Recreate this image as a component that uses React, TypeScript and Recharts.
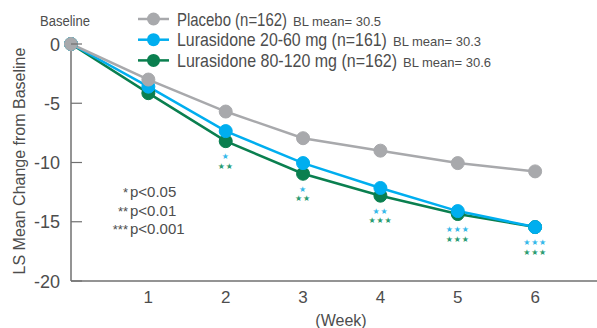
import React from 'react';
import { LineChart, Line, XAxis, YAxis } from 'recharts';

// LS mean change from baseline
const weeks = [0, 1, 2, 3, 4, 5, 6];
const placebo = [0, -3.0, -5.7, -7.95, -9.0, -10.05, -10.75];
const luraLow = [0, -3.6, -7.35, -10.05, -12.15, -14.1, -15.45];
const luraHigh = [0, -4.15, -8.2, -10.95, -12.8, -14.35, -15.45];

// significance vs placebo at each week (number of stars)
const sigLow = ['', '', '★', '★', '★★', '★★★', '★★★'];
const sigHigh = ['', '', '★★', '★★', '★★★', '★★★', '★★★'];

const xTicks = [1, 2, 3, 4, 5, 6];
const yTicks = [0, -5, -10, -15, -20];

const seriesNames = ['Placebo (n=162)', 'Lurasidone 20-60 mg (n=161)', 'Lurasidone 80-120 mg (n=162)'];
const blMeans = ['30.5', '30.3', '30.6'];
const pNotes = [
  { stars: '*', text: 'p<0.05' },
  { stars: '**', text: 'p<0.01' },
  { stars: '***', text: 'p<0.001' },
];

const GRAY = '#a8a9ac';
const BLUE = '#00aeef';
const GREEN = '#0a7f4f';
const STAR_BLUE = '#35b9ea';
const STAR_GREEN = '#2a9c72';
const TEXT = '#4d4d4d';
const AXIS = '#707070';
const FONT = '"Liberation Sans", Arial, sans-serif';

const colors = [GRAY, BLUE, GREEN];
// legend names are set in a narrow face; squeeze the regular one horizontally
const legendScale = [0.83, 0.884, 0.889];
const legendWidths = [110, 210, 220];

const data = weeks.map((w, i) => ({
  week: w,
  placebo: placebo[i],
  low: luraLow[i],
  high: luraHigh[i],
}));

const YTick = (props: any) => {
  const { x, y, payload } = props;
  return (
    <g>
      <line x1={x} x2={x + 11} y1={y} y2={y} stroke={AXIS} strokeWidth={1.2} />
      <text x={x - 11} y={y + 6.5} textAnchor="end" fontSize={18} fill={TEXT} fontFamily={FONT}>
        {payload.value}
      </text>
    </g>
  );
};

const StarLabel = (props: any) => {
  const { x, y, index } = props;
  if (!sigHigh[index]) return <g />;
  return (
    <g fontFamily='"DejaVu Sans", sans-serif' fontSize={8} textAnchor="middle" letterSpacing={0.8}>
      <text x={x} y={y + 18} fill={STAR_BLUE}>{sigLow[index]}</text>
      <text x={x} y={y + 27.5} fill={STAR_GREEN}>{sigHigh[index]}</text>
    </g>
  );
};

export default function App() {
  return (
    <div style={{ position: 'absolute', left: 0, top: 0, width: 597, height: 328, background: '#fff' }}>
      <LineChart width={597} height={328} data={data} margin={{ top: 44, right: 0, left: 11, bottom: 17 }}>
        <XAxis
          dataKey="week"
          type="number"
          domain={[0, 6.8]}
          ticks={xTicks}
          tickLine={false}
          tickSize={0}
          tickMargin={10}
          axisLine={{ stroke: AXIS, strokeWidth: 1.5 }}
          tick={{ fontSize: 17, fill: TEXT, fontFamily: FONT }}
          height={30}
        />
        <YAxis
          type="number"
          domain={[-20, 0]}
          ticks={yTicks}
          width={60}
          tickLine={false}
          tickSize={0}
          tickMargin={0}
          axisLine={{ stroke: AXIS, strokeWidth: 1.5 }}
          tick={<YTick />}
        />
        <Line
          dataKey="high"
          stroke={GREEN}
          strokeWidth={2.5}
          dot={{ r: 6.5, fill: GREEN, stroke: GREEN, strokeWidth: 1 }}
          label={<StarLabel />}
          isAnimationActive={false}
        />
        <Line
          dataKey="low"
          stroke={BLUE}
          strokeWidth={2.5}
          dot={{ r: 6.5, fill: BLUE, stroke: BLUE, strokeWidth: 1 }}
          isAnimationActive={false}
        />
        <Line
          dataKey="placebo"
          stroke={GRAY}
          strokeWidth={2.5}
          dot={{ r: 6.5, fill: GRAY, stroke: GRAY, strokeWidth: 1 }}
          isAnimationActive={false}
        />
      </LineChart>
      <svg
        width={597}
        height={328}
        style={{ position: 'absolute', left: 0, top: 0, pointerEvents: 'none' }}
        fontFamily={FONT}
      >
        <text x={40} y={26} fontSize={15} fill={TEXT} transform="translate(40 0) scale(0.87 1) translate(-40 0)">
          Baseline
        </text>
        {seriesNames.map((name, i) => {
          const cy = 19 + i * 20.7;
          return (
            <g key={name}>
              <line x1={138} x2={169} y1={cy} y2={cy} stroke={colors[i]} strokeWidth={2.5} />
              <circle cx={153.5} cy={cy} r={6.5} fill={colors[i]} />
              <text
                x={0}
                y={0}
                fontSize={18}
                fill={TEXT}
                transform={`translate(177 ${cy + 6.7}) scale(${legendScale[i]} 1)`}
              >
                {name}
              </text>
              <text x={177 + legendWidths[i] + 6} y={cy + 6.7} fontSize={13} fill={TEXT}>
                {'BL mean= ' + blMeans[i]}
              </text>
            </g>
          );
        })}
        <text
          x={25}
          y={161}
          transform="rotate(-90 25 161)"
          textAnchor="middle"
          fontSize={16}
          fill={TEXT}
        >
          LS Mean Change from Baseline
        </text>
        <text x={341} y={326} textAnchor="middle" fontSize={16} fill={TEXT}>
          (Week)
        </text>
        {pNotes.map((n, i) => {
          const by = 197 + i * 18.5;
          return (
            <g key={n.text}>
              <text x={128} y={by} textAnchor="end" fontSize={13} fill={TEXT}>
                {n.stars}
              </text>
              <text x={130} y={by} fontSize={15} fill={TEXT}>
                {n.text}
              </text>
            </g>
          );
        })}
      </svg>
    </div>
  );
}
